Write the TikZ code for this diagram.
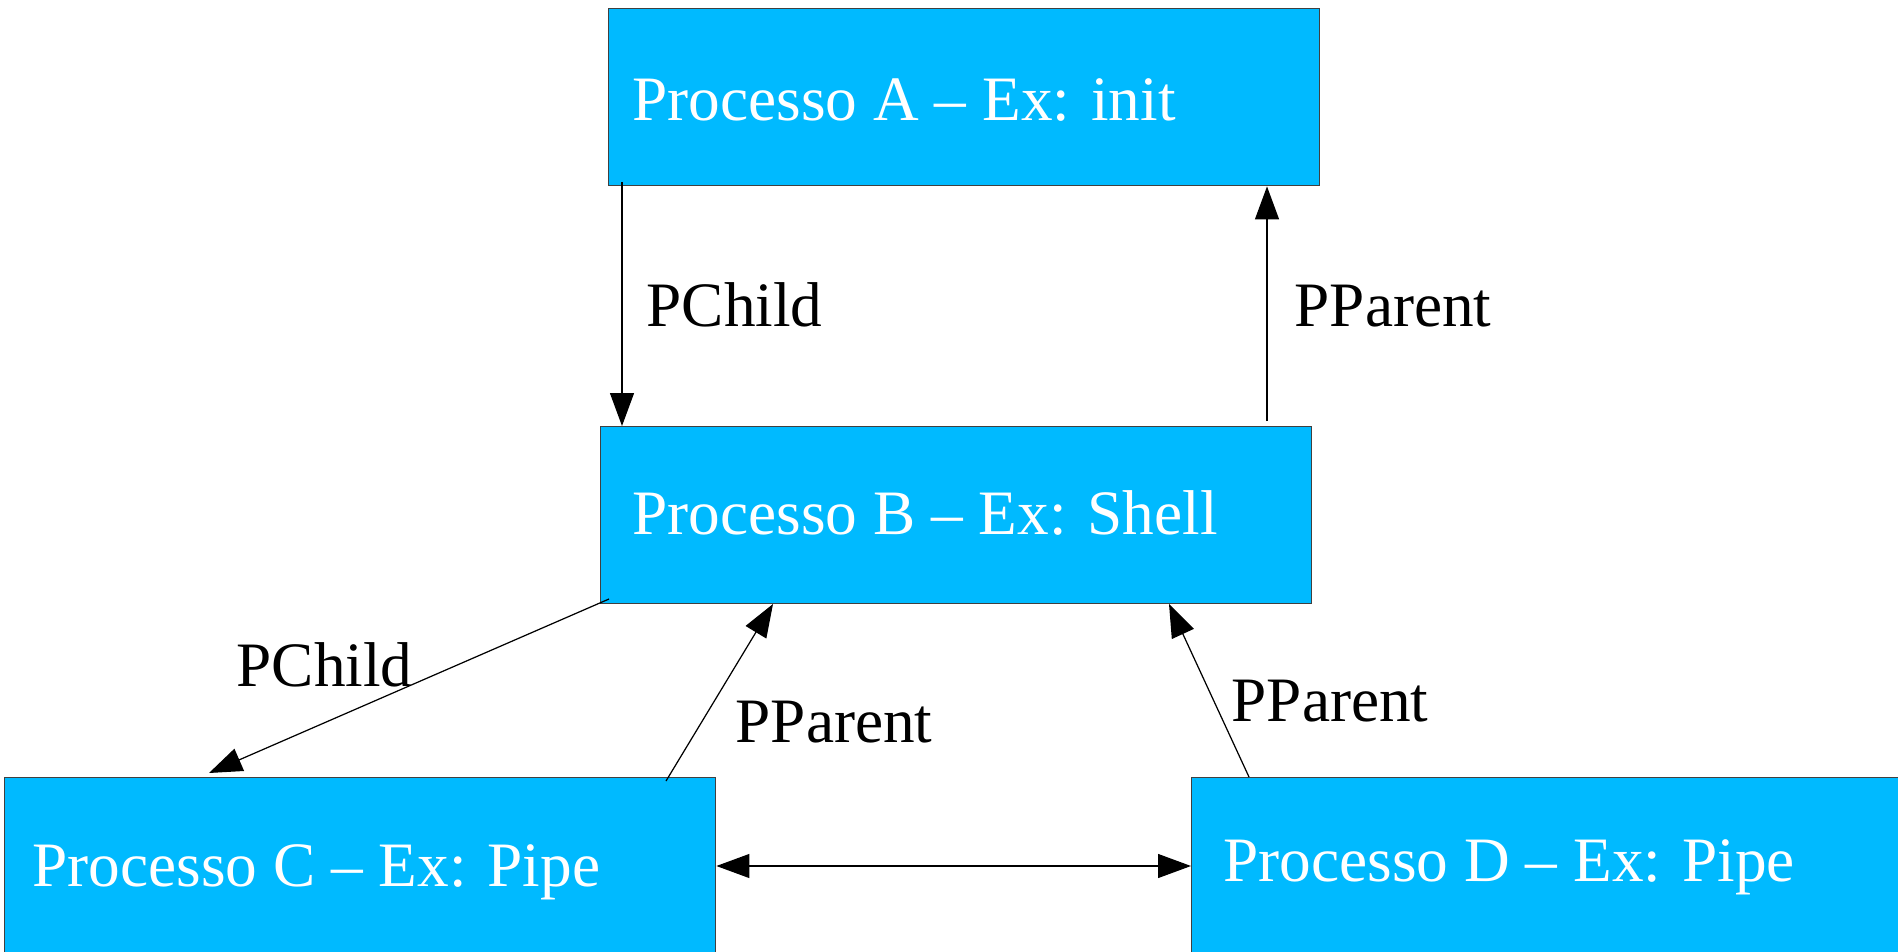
\documentclass[tikz,border=0pt]{standalone}
\usepackage{fontspec}
\setmainfont{Liberation Serif}
\usepackage{xcolor}
\usetikzlibrary{arrows.meta}
\definecolor{procblue}{RGB}{0,186,255}

\begin{document}
\begin{tikzpicture}[x=0.1mm, y=-0.1mm, >={Triangle[length=3.3mm,width=2.4mm]},
    proc/.style={draw=black!75, line width=0.4pt, fill=procblue, anchor=north west, inner sep=0pt},
    ptext/.style={text=white, font=\fontsize{18}{22}\selectfont, anchor=base west, inner sep=0pt},
    elabel/.style={font=\fontsize{18}{22}\selectfont, anchor=base west, inner sep=0pt},
    link/.style={line width=0.35pt, ->}]
    \useasboundingbox (0,0) rectangle (1898,952);

    % Process boxes
    \node [proc, minimum width=71.1mm, minimum height=17.7mm] (A) at (608,8) {};
    \node [proc, minimum width=71.1mm, minimum height=17.7mm] (B) at (600,426) {};
    \node [proc, minimum width=71.1mm, minimum height=20mm] (C) at (4,777) {};
    \node [proc, minimum width=72mm, minimum height=20mm] (D) at (1191,777) {};

    \node [ptext] (tA) at (632,121) {Processo A – Ex: init};
    \node [ptext] (tB) at (632,534) {Processo B – Ex: Shell};
    \node [ptext] (tC) at (32,886) {Processo C – Ex: Pipe};
    \node [ptext] (tD) at (1223,881) {Processo D – Ex: Pipe};

    % Links between A and B
    \coordinate (a0) at (622,182);
    \coordinate (b0) at (1267,421);
    \draw [link] (a0) -- (a0 |- B.north);
    \draw [link] (b0) -- (b0 |- A.south);

    % Links to the children of B
    \coordinate (b1) at (609,599);
    \coordinate (c0) at (209,773);
    \coordinate (c1) at (666,781);
    \coordinate (b2) at (773,604);
    \coordinate (d0) at (1249,777);
    \coordinate (b3) at (1169,604);
    \draw [link] (b1) -- (c0);
    \draw [link] (c1) -- (b2);
    \draw [link] (d0) -- (b3);

    % C <-> D
    \coordinate (cd) at (0,866);
    \draw [link, <->] (C.east |- cd) -- (D.west |- cd);

    \node [elabel] (l1) at (646,326) {PChild};
    \node [elabel] (l2) at (1294,326) {PParent};
    \node [elabel] (l3) at (236,686) {PChild};
    \node [elabel] (l4) at (735,742) {PParent};
    \node [elabel] (l5) at (1231,721) {PParent};
\end{tikzpicture}
\end{document}
